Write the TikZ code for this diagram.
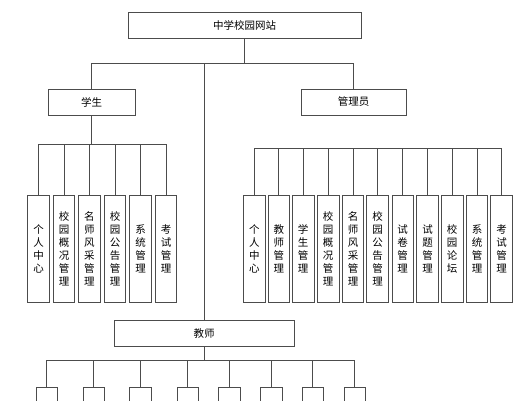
\documentclass[tikz,border=0pt]{standalone}
\usepackage{fontspec}
\setmainfont{Noto Sans CJK SC}
\tikzstyle{box} = [draw=black!70, line width=0.7pt, inner sep=0pt, font=\fontsize{10.5}{13}\selectfont]
\tikzstyle{head} = [box, minimum height=26pt]
\tikzstyle{leaf} = [box, minimum width=21.5pt, minimum height=106.5pt, align=center]
\tikzstyle{link} = [draw=black!70, line width=0.7pt]

\begin{document}
\begin{tikzpicture}[x=1pt, y=-1pt]
			\useasboundingbox[fill=white] (0, 0) rectangle (528, 400);
			\clip (0, 0) rectangle (528, 400);
			
			\node[head, minimum width=233pt](site) at (244.5, 25){中学校园网站};
			\node[head, minimum width=87pt](stu) at (91.5, 102){学生};
			\node[head, minimum width=105pt](adm) at (353.5, 102){管理员};
			\node[head, minimum width=180pt, minimum height=25.5pt](tea) at (204, 333.3){教师};
			
			\node[leaf](s1) at (38.5, 249){个\\人\\中\\心};
			\node[leaf](s2) at (64, 249){校\\园\\概\\况\\管\\理};
			\node[leaf](s3) at (89.3, 249){名\\师\\风\\采\\管\\理};
			\node[leaf](s4) at (115, 249){校\\园\\公\\告\\管\\理};
			\node[leaf](s5) at (140.5, 249){系\\统\\管\\理};
			\node[leaf](s6) at (166, 249){考\\试\\管\\理};
			
			\node[leaf](a1) at (254.3, 249){个\\人\\中\\心};
			\node[leaf](a2) at (278.8, 249){教\\师\\管\\理};
			\node[leaf](a3) at (303.2, 249){学\\生\\管\\理};
			\node[leaf](a4) at (328.2, 249){校\\园\\概\\况\\管\\理};
			\node[leaf](a5) at (353, 249){名\\师\\风\\采\\管\\理};
			\node[leaf](a6) at (377.5, 249){校\\园\\公\\告\\管\\理};
			\node[leaf](a7) at (402.7, 249){试\\卷\\管\\理};
			\node[leaf](a8) at (427.5, 249){试\\题\\管\\理};
			\node[leaf](a9) at (452.2, 249){校\\园\\论\\坛};
			\node[leaf](a10) at (477, 249){系\\统\\管\\理};
			\node[leaf](a11) at (501.5, 249){考\\试\\管\\理};
			
			\node[leaf, minimum width=21.7pt](t1) at (46.8, 440.5){};
			\node[leaf, minimum width=21.7pt](t2) at (93.7, 440.5){};
			\node[leaf, minimum width=21.7pt](t3) at (140.3, 440.5){};
			\node[leaf, minimum width=21.7pt](t4) at (187.7, 440.5){};
			\node[leaf, minimum width=21.7pt](t5) at (229.2, 440.5){};
			\node[leaf, minimum width=21.7pt](t6) at (271, 440.5){};
			\node[leaf, minimum width=21.7pt](t7) at (312.7, 440.5){};
			\node[leaf, minimum width=21.7pt](t8) at (354.8, 440.5){};
			
			\coordinate(top) at (244.5, 63);
			\coordinate(sbus) at (91.5, 144.3);
			\coordinate(abus) at (378, 148.3);
			\coordinate(tbus) at (204, 360.7);
			
			\draw[link](site) -- (top);
			\draw[link](top) -| (stu);
			\draw[link](top) -| (adm);
			\draw[link](top) -| (tea);
			
			\draw[link](stu) -- (sbus);
			\draw[link](sbus) -| (s1);
			\draw[link](sbus) -| (s2);
			\draw[link](sbus) -| (s3);
			\draw[link](sbus) -| (s4);
			\draw[link](sbus) -| (s5);
			\draw[link](sbus) -| (s6);
			
			\draw[link](abus) -| (a1);
			\draw[link](abus) -| (a2);
			\draw[link](abus) -| (a3);
			\draw[link](abus) -| (a4);
			\draw[link](abus) -| (a5);
			\draw[link](abus) -| (a6);
			\draw[link](abus) -| (a7);
			\draw[link](abus) -| (a8);
			\draw[link](abus) -| (a9);
			\draw[link](abus) -| (a10);
			\draw[link](abus) -| (a11);
			
			\draw[link](tea) -- (tbus);
			\draw[link](tbus) -| (t1);
			\draw[link](tbus) -| (t2);
			\draw[link](tbus) -| (t3);
			\draw[link](tbus) -| (t4);
			\draw[link](tbus) -| (t5);
			\draw[link](tbus) -| (t6);
			\draw[link](tbus) -| (t7);
			\draw[link](tbus) -| (t8);
		\end{tikzpicture}
\end{document}
